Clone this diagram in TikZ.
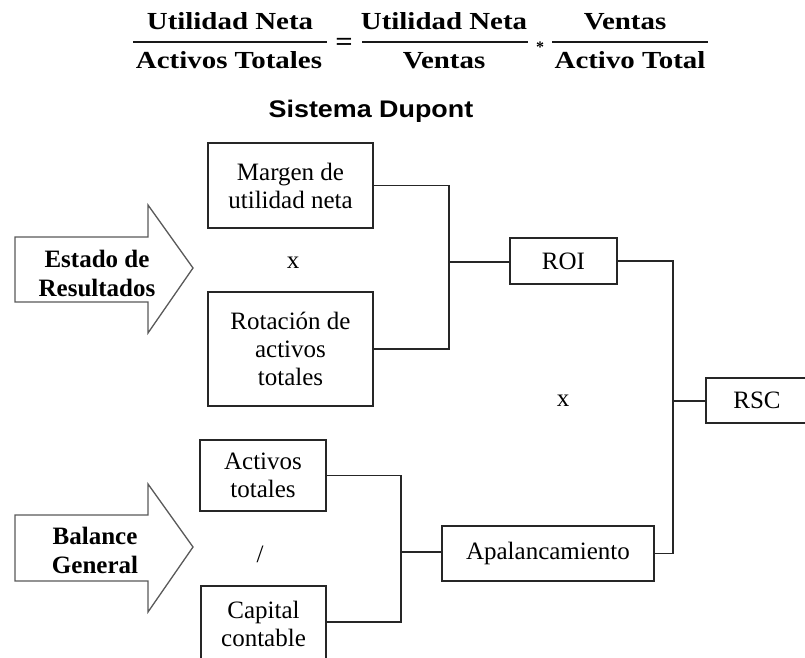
\documentclass[tikz,border=0pt]{standalone}
\usepackage{fontspec}
\setmainfont{Liberation Serif}
\newfontfamily\formfont[FakeStretch=1.18]{Liberation Serif}
\newfontfamily\titlefont[FakeStretch=1.12]{Liberation Sans}
\begin{document}
\begin{tikzpicture}[x=1pt,y=-1pt,
  box/.style={draw=black!85,line width=1.3pt,inner sep=0pt,align=center,
    font=\fontsize{25}{28}\selectfont},
  conn/.style={draw=black!85,line width=1.3pt},
  fig/.style={draw=black!65,line width=1.3pt,fill=white,line join=miter},
  figtext/.style={font=\bfseries\fontsize{25}{29}\selectfont,align=center,inner sep=0pt},
  frm/.style={font=\formfont\bfseries\fontsize{24.5}{28}\selectfont,anchor=base,inner sep=0pt},
  bar/.style={line width=2.6pt,draw=black!90},
  sym/.style={font=\fontsize{25}{28}\selectfont,inner sep=0pt}]
\useasboundingbox (0,0) rectangle (805,657);
\clip (0,0) rectangle (805,657);

% formula
\node[frm] (n1) at (230,29) {Utilidad Neta};
\node[frm] (d1) at (229,68) {Activos Totales};
\draw[bar] (133,42) -- (327,42);
\node[font=\formfont\bfseries\fontsize{26}{28}\selectfont,inner sep=0pt] (eq) at (344,44) {=};
\node[frm] (n2) at (444,29) {Utilidad Neta};
\node[frm] (d2) at (444,68) {Ventas};
\draw[bar] (362,42) -- (528,42);
\node[font=\bfseries\fontsize{16}{18}\selectfont,inner sep=0pt] (mul) at (540,47) {*};
\node[frm] (n3) at (625,29) {Ventas};
\node[frm] (d3) at (630,68) {Activo Total};
\draw[bar] (552,42) -- (708,42);

% title
\node[font=\titlefont\bfseries\fontsize{24}{28}\selectfont,anchor=base,inner sep=0pt] (title) at (371,117) {Sistema Dupont};

% big arrows
\draw[fig] (15,237) -- (148,237) -- (148,205) -- (193,268) -- (148,333) -- (148,302) -- (15,302) -- cycle;
\node[figtext] (er) at (97,273) {Estado de\\Resultados};
\draw[fig] (15,515) -- (148,515) -- (148,484) -- (193,547) -- (148,612) -- (148,581) -- (15,581) -- cycle;
\node[figtext] (bg) at (95,550) {Balance\\General};

% boxes
\node[box,minimum width=165pt,minimum height=85pt] (margen) at (290.5,185.5) {Margen de\\utilidad neta};
\node[box,minimum width=165pt,minimum height=114pt] (rot) at (290.5,349) {Rotación de\\activos\\totales};
\node[box,minimum width=107pt,minimum height=46pt] (roi) at (563.5,261) {ROI};
\node[box,minimum width=102pt,minimum height=45pt] (rsc) at (757,400.5) {RSC};
\node[box,minimum width=126pt,minimum height=71pt] (act) at (263,475.5) {Activos\\totales};
\node[box,minimum width=125pt,minimum height=76pt] (cap) at (263.5,624) {Capital\\contable};
\node[box,minimum width=212pt,minimum height=55pt] (apa) at (548,553.5) {Apalancamiento};

% operators
\node[sym] (x1) at (293,262.5) {x};
\node[sym] (x2) at (563,401) {x};
\node[sym] (div) at (260,554) {/};

% connectors
\coordinate (jA) at (449,262);
\coordinate (jB) at (673,401);
\coordinate (jC) at (401,552);
\draw[conn] (margen.east) -| (jA) |- (rot.east);
\draw[conn] (jA) -- (roi.west |- jA);
\draw[conn] (roi.east) -| (jB) |- (apa.east);
\draw[conn] (jB) -- (rsc.west |- jB);
\draw[conn] (act.east) -| (jC);
\draw[conn] (jC) |- (cap.east |- 0,622);
\draw[conn] (jC) -- (apa.west |- jC);
\end{tikzpicture}
\end{document}
